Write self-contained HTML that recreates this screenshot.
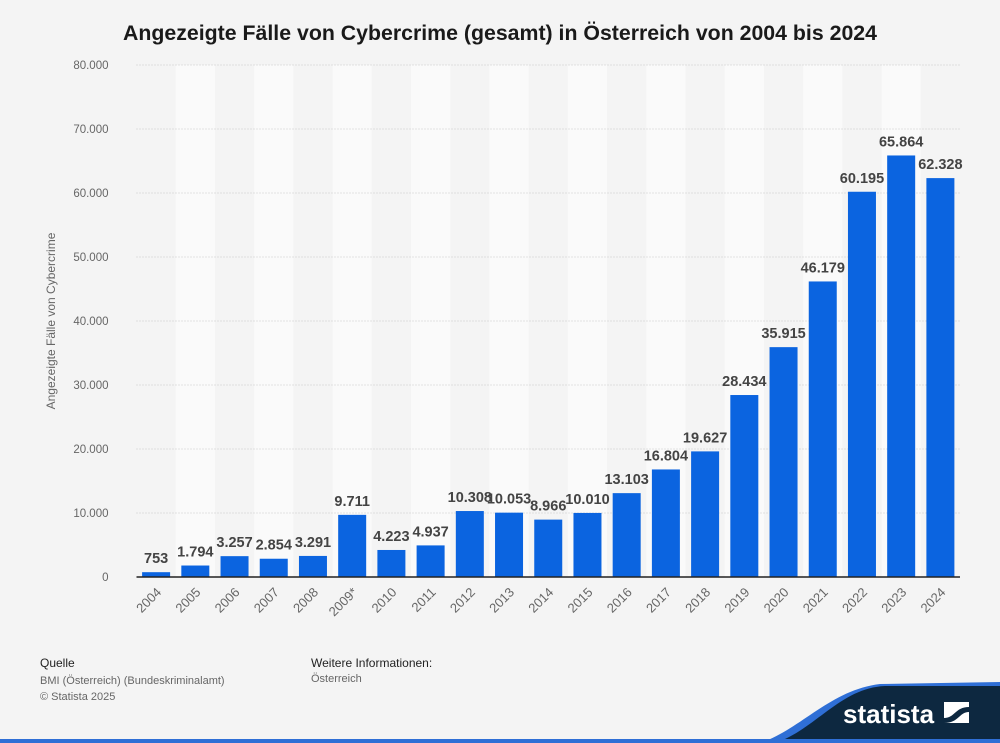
<!DOCTYPE html>
<html><head><meta charset="utf-8"><style>
body{margin:0;width:1000px;height:743px;background:#f4f4f4;font-family:"Liberation Sans",sans-serif;overflow:hidden;position:relative}
.t{position:absolute}
</style></head><body>
<div class="t" style="left:0;width:1000px;top:21px;text-align:center;font-weight:bold;font-size:21.3px;color:#1a1a1a">Angezeigte Fälle von Cybercrime (gesamt) in Österreich von 2004 bis 2024</div>
<svg id="c" width="1000" height="743" style="position:absolute;left:0;top:0"></svg>
<div class="t" style="left:40px;top:656px;font-size:12px;color:#222">Quelle</div>
<div class="t" style="left:40px;top:673px;font-size:11px;color:#666;line-height:16px">BMI (Österreich) (Bundeskriminalamt)<br>© Statista 2025</div>
<div class="t" style="left:311px;top:656px;font-size:12px;color:#222">Weitere Informationen:</div>
<div class="t" style="left:311px;top:673px;font-size:11px;color:#666">Österreich</div>
<svg width="1000" height="743" style="position:absolute;left:0;top:0">
<path d="M760 743 C800 730 830 690 880 684 L1000 682 L1000 743Z" fill="#2f6fd6"/>
<path d="M775 743 C815 730 840 688 885 686 L1000 686 L1000 743Z" fill="#0d2840"/>
<rect x="0" y="739" width="1000" height="4" fill="#2f6fd6"/>
<text x="843" y="723" font-family="Liberation Sans" font-weight="bold" font-size="26" fill="#fff">statista</text>
<rect x="944" y="702" width="25" height="21" fill="#fff"/>
<path d="M944 718 C955 718 955 707 969 707 L969 712 C959 712 959 723 944 723Z" fill="#0d2840"/>
</svg>
<script>
const categories=["2004","2005","2006","2007","2008","2009*","2010","2011","2012","2013","2014","2015","2016","2017","2018","2019","2020","2021","2022","2023","2024"];
const values=[753,1794,3257,2854,3291,9711,4223,4937,10308,10053,8966,10010,13103,16804,19627,28434,35915,46179,60195,65864,62328];
const labels=["753","1.794","3.257","2.854","3.291","9.711","4.223","4.937","10.308","10.053","8.966","10.010","13.103","16.804","19.627","28.434","35.915","46.179","60.195","65.864","62.328"];
const ticks=[0,10000,20000,30000,40000,50000,60000,70000,80000];
const tickLabels=["0","10.000","20.000","30.000","40.000","50.000","60.000","70.000","80.000"];
const svg=document.getElementById('c');const NS="http://www.w3.org/2000/svg";
const x0=136.5,x1=960,y0=577,yTop=65,max=80000;
const slot=(x1-x0)/categories.length;
const y=v=>y0-(v/max)*(y0-yTop);
const xc=i=>x0+slot*(i+0.5);
function mk(t,a){const e=document.createElementNS(NS,t);for(const k in a)e.setAttribute(k,a[k]);svg.appendChild(e);return e;}
categories.forEach((c,i)=>{if(i%2==1){const r=mk('rect',{x:x0+slot*i,y:yTop,width:slot,height:y0-yTop,fill:'#fafafa'});

}});
ticks.forEach((t,i)=>{if(t>0){const l=mk('line',{x1:x0,x2:x1,y1:y(t),y2:y(t),stroke:'#c8c8c8','stroke-dasharray':'1,2'});

}
const tx=mk('text',{x:x0-28,y:y(t)+4,'text-anchor':'end','font-size':11.5,fill:'#666','font-family':'Liberation Sans'});tx.textContent=tickLabels[i];

});
const yt=mk('text',{x:0,y:0,'text-anchor':'middle','font-size':12,fill:'#666','font-family':'Liberation Sans',transform:`translate(55,321) rotate(-90)`});yt.textContent="Angezeigte Fälle von Cybercrime";


values.forEach((v,i)=>{const b=mk('rect',{x:xc(i)-14,y:y(v),width:28,height:y0-y(v),fill:'#0b64e0'});


const t=mk('text',{x:xc(i),y:y(v)-9,'text-anchor':'middle','font-size':14.5,'font-weight':'bold',fill:'#444','font-family':'Liberation Sans'});t.textContent=labels[i];


const c=mk('text',{x:0,y:0,'text-anchor':'end','font-size':13,fill:'#666','font-family':'Liberation Sans',transform:`translate(${xc(i)+6},${y0+16}) rotate(-45)`});c.textContent=categories[i];

});
const ax=mk('line',{x1:x0,x2:x1,y1:y0,y2:y0,stroke:'#222','stroke-width':1.5});


</script>
</body></html>
